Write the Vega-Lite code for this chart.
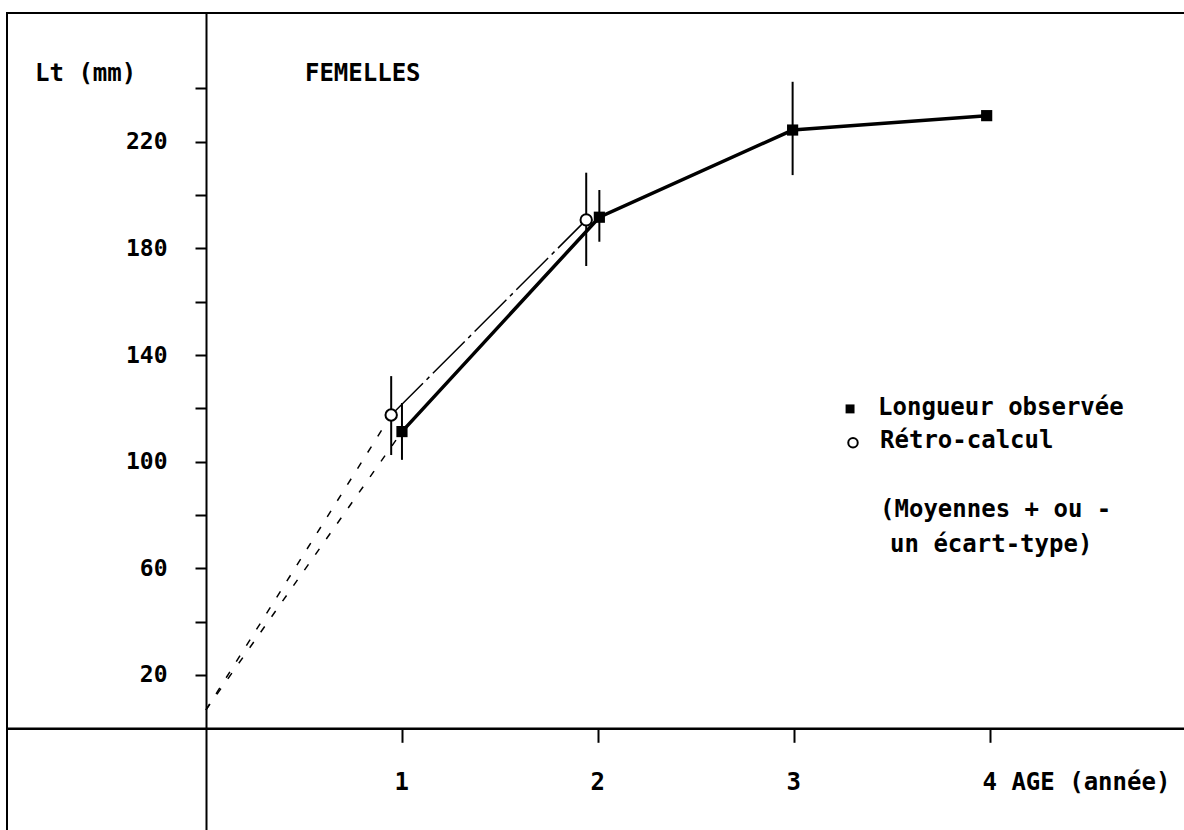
{
  "$schema": "https://vega.github.io/schema/vega-lite/v6.json",
  "width": 1180,
  "height": 820,
  "autosize": {"type": "none"},
  "padding": {"left": 7, "top": 13, "right": 0, "bottom": 0},
  "background": "white",
  "config": {
    "view": {"stroke": "black", "strokeWidth": 2},
    "font": "DejaVu Sans Mono"
  },
  "datasets": {
    "pts": [
      {"series": "obs", "age": 1.0, "lt": 111.3, "lo": 100.7, "hi": 122.0},
      {"series": "obs", "age": 2.007, "lt": 191.7, "lo": 182.5, "hi": 201.9},
      {"series": "obs", "age": 2.993, "lt": 224.4, "lo": 207.5, "hi": 242.5},
      {"series": "obs", "age": 3.983, "lt": 229.8, "lo": null, "hi": null},
      {"series": "retro", "age": 0.945, "lt": 117.5, "lo": 102.5, "hi": 132.1},
      {"series": "retro", "age": 1.94, "lt": 190.7, "lo": 173.4, "hi": 208.4}
    ],
    "ext": [
      {"series": "obs", "age": 0, "lt": 6.9},
      {"series": "obs", "age": 1.0, "lt": 111.3},
      {"series": "retro", "age": 0, "lt": 6.9},
      {"series": "retro", "age": 0.945, "lt": 117.5}
    ],
    "leg": [
      {"series": "obs", "age": 3.286, "lt": 119.8},
      {"series": "retro", "age": 3.301, "lt": 107.1}
    ],
    "txt": [
      {"txt": "Lt (mm)", "age": -0.872, "lt": 242.8},
      {"txt": "FEMELLES", "age": 0.505, "lt": 242.8},
      {"txt": "Longueur observée", "age": 3.429, "lt": 117.5},
      {"txt": "Rétro-calcul", "age": 3.439, "lt": 105.1},
      {"txt": "(Moyennes + ou -", "age": 3.439, "lt": 79.3},
      {"txt": "un écart-type)", "age": 3.49, "lt": 66.2}
    ]
  },
  "layer": [
    {
      "data": {"name": "ext"},
      "mark": {"type": "line", "color": "black", "strokeWidth": 1.5, "strokeDash": [7, 12]},
      "encoding": {
        "x": {
          "field": "age", "type": "quantitative",
          "scale": {"domain": [-1.015, 5.005], "nice": false, "zero": false},
          "axis": {
            "title": null, "values": [1, 2, 3, 4], "grid": false,
            "offset": -104.7,
            "labelExpr": "datum.value == 4 ? '4 AGE (année)' : format(datum.value, 'd')",
            "labelAlign": "left", "labelOffset": -8, "labelBaseline": "middle", "labelLimit": 400,
            "labelPadding": 40, "tickSize": 14, "tickWidth": 2, "tickColor": "black",
            "domainColor": "black", "domainWidth": 2.5,
            "labelFont": "DejaVu Sans Mono", "labelFontSize": 24, "labelFontWeight": "bold", "labelColor": "black"
          }
        },
        "y": {
          "field": "lt", "type": "quantitative",
          "scale": {"domain": [-39.27, 268.3], "nice": false, "zero": false},
          "axis": {
            "title": null, "values": [20, 40, 60, 80, 100, 120, 140, 160, 180, 200, 220, 240], "grid": false,
            "offset": -199,
            "labelExpr": "datum.value % 40 == 20 ? datum.label : ''",
            "labelPadding": 28, "tickSize": 11, "tickWidth": 2, "tickColor": "black",
            "domainColor": "black", "domainWidth": 2,
            "labelFont": "DejaVu Sans Mono", "labelFontSize": 23, "labelFontWeight": "bold", "labelColor": "black"
          }
        },
        "detail": {"field": "series"}
      }
    },
    {
      "data": {"name": "pts"},
      "transform": [{"filter": "datum.series == 'retro'"}],
      "mark": {"type": "line", "color": "black", "strokeWidth": 1.5, "strokeDash": [45, 5, 4, 5]},
      "encoding": {
        "x": {"field": "age", "type": "quantitative"},
        "y": {"field": "lt", "type": "quantitative"}
      }
    },
    {
      "data": {"name": "pts"},
      "transform": [{"filter": "datum.series == 'obs'"}],
      "mark": {"type": "line", "color": "black", "strokeWidth": 3.5},
      "encoding": {
        "x": {"field": "age", "type": "quantitative"},
        "y": {"field": "lt", "type": "quantitative"}
      }
    },
    {
      "data": {"name": "pts"},
      "transform": [{"filter": "datum.lo != null"}],
      "mark": {"type": "rule", "color": "black", "strokeWidth": 2},
      "encoding": {
        "x": {"field": "age", "type": "quantitative"},
        "y": {"field": "lo", "type": "quantitative"},
        "y2": {"field": "hi"}
      }
    },
    {
      "data": {"name": "pts"},
      "transform": [{"filter": "datum.series == 'obs'"}],
      "mark": {"type": "point", "shape": "square", "filled": true, "color": "black", "size": 125, "opacity": 1},
      "encoding": {
        "x": {"field": "age", "type": "quantitative"},
        "y": {"field": "lt", "type": "quantitative"}
      }
    },
    {
      "data": {"name": "pts"},
      "transform": [{"filter": "datum.series == 'retro'"}],
      "mark": {"type": "point", "shape": "circle", "filled": true, "fill": "white", "stroke": "black", "strokeWidth": 2, "size": 130, "opacity": 1},
      "encoding": {
        "x": {"field": "age", "type": "quantitative"},
        "y": {"field": "lt", "type": "quantitative"}
      }
    },
    {
      "data": {"name": "leg"},
      "transform": [{"filter": "datum.series == 'obs'"}],
      "mark": {"type": "point", "shape": "square", "filled": true, "color": "black", "size": 80, "opacity": 1},
      "encoding": {
        "x": {"field": "age", "type": "quantitative"},
        "y": {"field": "lt", "type": "quantitative"}
      }
    },
    {
      "data": {"name": "leg"},
      "transform": [{"filter": "datum.series == 'retro'"}],
      "mark": {"type": "point", "shape": "circle", "filled": true, "fill": "white", "stroke": "black", "strokeWidth": 2, "size": 90, "opacity": 1},
      "encoding": {
        "x": {"field": "age", "type": "quantitative"},
        "y": {"field": "lt", "type": "quantitative"}
      }
    },
    {
      "data": {"name": "txt"},
      "mark": {"type": "text", "align": "left", "baseline": "alphabetic", "font": "DejaVu Sans Mono", "fontSize": 24, "fontWeight": "bold", "color": "black"},
      "encoding": {
        "x": {"field": "age", "type": "quantitative"},
        "y": {"field": "lt", "type": "quantitative"},
        "text": {"field": "txt"}
      }
    }
  ]
}
